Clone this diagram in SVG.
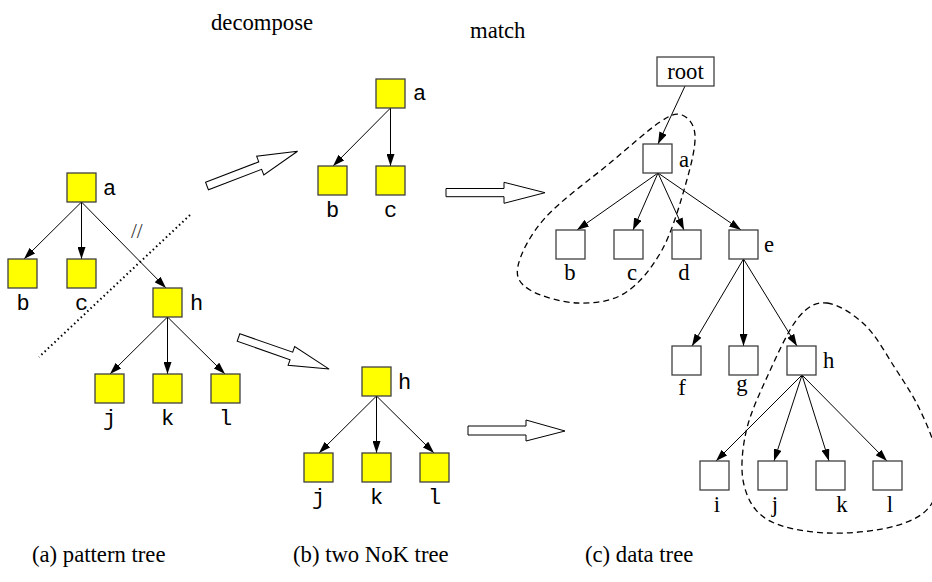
<svg xmlns="http://www.w3.org/2000/svg" width="932" height="582" viewBox="0 0 932 582">
<defs>
<marker id="ah" viewBox="0 0 12 8" refX="12" refY="4" markerWidth="12" markerHeight="8" orient="auto" markerUnits="userSpaceOnUse">
<path d="M0,0 L12,4 L0,8 z" fill="#000"/>
</marker>
</defs>
<style>
.y{fill:#ffff00;stroke:#404040;stroke-width:1.3}
.w{fill:#fff;stroke:#404040;stroke-width:1.3}
.e{stroke:#000;stroke-width:1;fill:none;marker-end:url(#ah)}
.m{font-family:"Liberation Mono",monospace;font-size:22px;fill:#000}
.s{font-family:"Liberation Serif",serif;font-size:22.7px;fill:#000}
.c{text-anchor:middle}
.ha{fill:#fff;stroke:#000;stroke-width:1}
.dash{fill:none;stroke:#000;stroke-width:1.3;stroke-dasharray:6,4}
</style>
<rect width="932" height="582" fill="#fff"/>

<g id="titles">
<text class="s" x="211" y="30">decompose</text>
<text class="s" x="470" y="38">match</text>
<text class="s" x="32" y="562">(a) pattern tree</text>
<text class="s" x="293" y="562">(b) two NoK tree</text>
<text class="s" x="585" y="562">(c) data tree</text>
</g>

<g id="connectors">
<line class="e" x1="81.5" y1="202" x2="24" y2="259"/>
<line class="e" x1="81.5" y1="202" x2="81.5" y2="259"/>
<line class="e" x1="81.5" y1="202" x2="166" y2="288"/>
<line class="e" x1="167.5" y1="317" x2="110" y2="374"/>
<line class="e" x1="167.5" y1="317" x2="167.5" y2="374"/>
<line class="e" x1="167.5" y1="317" x2="225" y2="374"/>
<line class="e" x1="390.5" y1="108" x2="333" y2="166"/>
<line class="e" x1="390.5" y1="108" x2="390.5" y2="166"/>
<line class="e" x1="376.5" y1="396" x2="319" y2="453"/>
<line class="e" x1="376.5" y1="396" x2="376.5" y2="453"/>
<line class="e" x1="376.5" y1="396" x2="434" y2="453"/>
<line class="e" x1="685" y1="86" x2="658" y2="144"/>
<line class="e" x1="658" y1="173" x2="577" y2="230"/>
<line class="e" x1="658" y1="173" x2="633" y2="230"/>
<line class="e" x1="658" y1="173" x2="684" y2="230"/>
<line class="e" x1="658" y1="173" x2="741" y2="230"/>
<line class="e" x1="743.5" y1="259" x2="692" y2="346"/>
<line class="e" x1="743.5" y1="259" x2="743.5" y2="346"/>
<line class="e" x1="743.5" y1="259" x2="797" y2="346"/>
<line class="e" x1="802" y1="375" x2="716" y2="461"/>
<line class="e" x1="802" y1="375" x2="774" y2="461"/>
<line class="e" x1="802" y1="375" x2="829" y2="461"/>
<line class="e" x1="802" y1="375" x2="887" y2="461"/>
</g>

<g id="decorations">
<line x1="190" y1="215" x2="39" y2="357" stroke="#000" stroke-width="2" stroke-dasharray="1.5,3"/>
<text x="131" y="238" font-family="Liberation Serif,serif" font-size="21" fill="#333">//</text>
<polygon class="ha" transform="translate(207,186) rotate(-21)" points="0,-4 57,-4 57,-10 97,0 57,10 57,4 0,4"/>
<polygon class="ha" transform="translate(238.5,337.5) rotate(19.2)" points="0,-4 56,-4 56,-10 96,0 56,10 56,4 0,4"/>
<polygon class="ha" points="446,188.5 504,188.5 504,182.3 545,192.7 504,203.3 504,196.7 446,196.7"/>
<polygon class="ha" points="468,426 526,426 526,420 565,431 526,441 526,435 468,435"/>
<path class="dash" d="M682,115 C687.8,117.2 694.3,123.7 695,135 C695.7,146.3 691.5,163.8 686,183 C680.5,202.2 672.2,231.7 662,250 C651.8,268.3 639,284.2 625,293 C611,301.8 593.8,303.5 578,303 C562.2,302.5 540,296.2 530,290 C520,283.8 515.5,278 518,266 C520.5,254 529.7,235.2 545,218 C560.3,200.8 590.8,179 610,163 C629.2,147 648,130 660,122 C672,114 676.2,112.8 682,115 Z"/>
<path class="dash" d="M827,303 C838.2,304.2 853.7,314.2 865,325 C876.3,335.8 885.8,353.8 895,368 C904.2,382.2 913.2,395.5 920,410 C926.8,424.5 934,439.5 936,455 C938,470.5 938.8,491.2 932,503 C925.2,514.8 912.5,521 895,526 C877.5,531 848.2,534 827,533 C805.8,532 781.8,528 768,520 C754.2,512 747.7,499.7 744,485 C740.3,470.3 742,450.3 746,432 C750,413.7 759.3,394 768,375 C776.7,356 788.2,330 798,318 C807.8,306 815.8,301.8 827,303 Z"/>
</g>

<g id="pa"><rect class="y" x="67" y="173" width="29" height="29"/><text class="m" x="103" y="195">a</text></g>
<g id="pb"><rect class="y" x="8" y="259" width="29" height="29"/><text class="m c" x="23" y="310">b</text></g>
<g id="pc"><rect class="y" x="67" y="259" width="29" height="29"/><text class="m c" x="81.5" y="310">c</text></g>
<g id="ph"><rect class="y" x="153" y="288" width="29" height="29"/><text class="m" x="190" y="310">h</text></g>
<g id="pj"><rect class="y" x="95" y="374" width="29" height="29"/><text class="m c" x="109.5" y="425">j</text></g>
<g id="pk"><rect class="y" x="153" y="374" width="29" height="29"/><text class="m c" x="167.5" y="425">k</text></g>
<g id="pl"><rect class="y" x="211" y="374" width="29" height="29"/><text class="m c" x="225.5" y="425">l</text></g>

<g id="na"><rect class="y" x="376" y="79" width="29" height="29"/><text class="m" x="413" y="100">a</text></g>
<g id="nb"><rect class="y" x="318" y="166" width="29" height="29"/><text class="m c" x="332.5" y="217">b</text></g>
<g id="nc"><rect class="y" x="376" y="166" width="29" height="29"/><text class="m c" x="390.5" y="217">c</text></g>
<g id="nh"><rect class="y" x="362" y="367" width="29" height="29"/><text class="m" x="398" y="389">h</text></g>
<g id="nj"><rect class="y" x="304" y="453" width="29" height="29"/><text class="m c" x="318.5" y="504">j</text></g>
<g id="nk"><rect class="y" x="362" y="453" width="29" height="29"/><text class="m c" x="376.5" y="504">k</text></g>
<g id="nl"><rect class="y" x="420" y="453" width="29" height="29"/><text class="m c" x="434.5" y="504">l</text></g>

<g id="droot"><rect class="w" x="657" y="57" width="57" height="29"/><text class="s c" x="685.5" y="79">root</text></g>
<g id="da"><rect class="w" x="643" y="144" width="29" height="29"/><text class="s" x="679" y="167">a</text></g>
<g id="db"><rect class="w" x="556" y="230" width="29" height="29"/><text class="s c" x="570" y="280">b</text></g>
<g id="dc"><rect class="w" x="614" y="230" width="29" height="29"/><text class="s c" x="632" y="280">c</text></g>
<g id="dd"><rect class="w" x="672" y="230" width="29" height="29"/><text class="s c" x="684" y="280">d</text></g>
<g id="de"><rect class="w" x="729" y="230" width="29" height="29"/><text class="s" x="764" y="252">e</text></g>
<g id="df"><rect class="w" x="672" y="346" width="29" height="29"/><text class="s c" x="682" y="395">f</text></g>
<g id="dg"><rect class="w" x="729" y="346" width="29" height="29"/><text class="s c" x="742" y="391">g</text></g>
<g id="dh"><rect class="w" x="787" y="346" width="29" height="29"/><text class="s" x="823" y="368">h</text></g>
<g id="di"><rect class="w" x="700" y="461" width="29" height="29"/><text class="s c" x="717" y="512">i</text></g>
<g id="dj"><rect class="w" x="758" y="461" width="29" height="29"/><text class="s c" x="775" y="512">j</text></g>
<g id="dk"><rect class="w" x="816" y="461" width="29" height="29"/><text class="s c" x="842" y="512">k</text></g>
<g id="dl"><rect class="w" x="873" y="461" width="29" height="29"/><text class="s c" x="890" y="512">l</text></g>
</svg>
